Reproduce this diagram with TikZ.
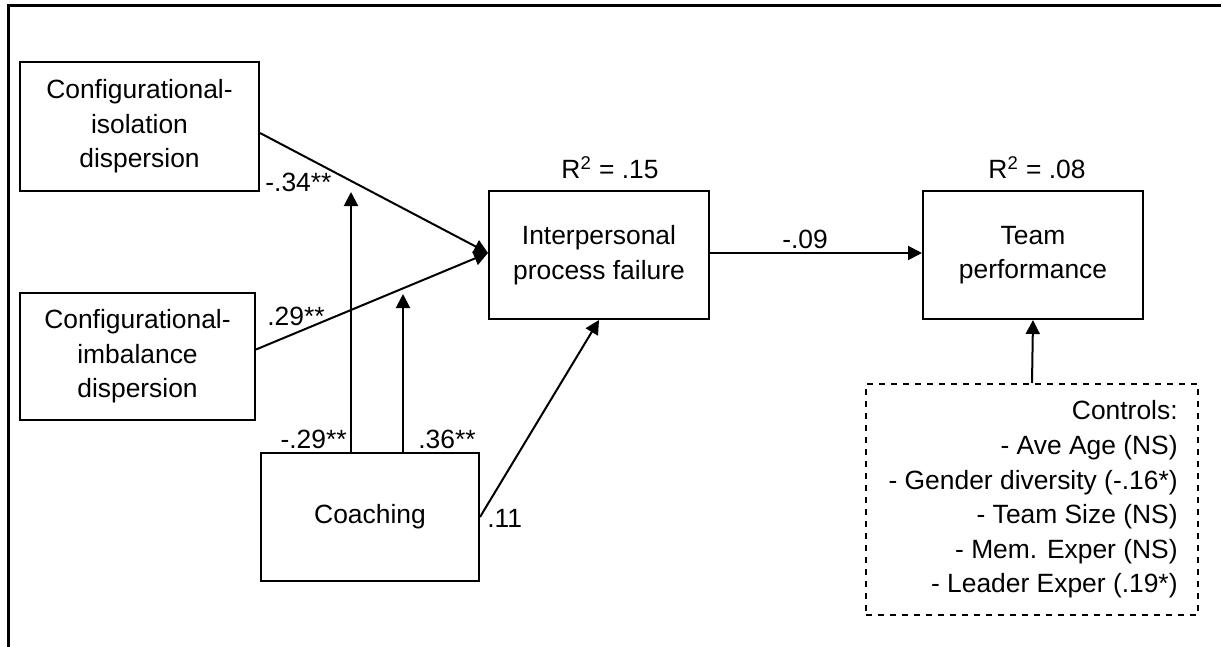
\documentclass[tikz,border=0pt]{standalone}
\usepackage{fontspec}
\setmainfont{Liberation Sans}
\usetikzlibrary{arrows.meta}
\begin{document}
\begin{tikzpicture}[x=0.5pt,y=-0.5pt,
  box/.style={draw,line width=1pt,align=center,inner sep=0pt},
  arr/.style={line width=1pt,-{Triangle[length=7pt,width=7pt]}},
  lbl/.style={inner sep=0pt},
  font=\fontsize{13.2}{17.3}\selectfont]
\useasboundingbox (0,0) rectangle (1221,647);
\draw[line width=1.5pt] (8,647) -- (8,6) -- (1221,6);
\node[box,minimum width=119.5pt,minimum height=64.5pt] (A) at (139.5,126.5) {Configurational-\\isolation\\dispersion};
\node[box,minimum width=117.5pt,minimum height=63.5pt] (B) at (137.5,356.5) {Configurational-\\imbalance\\dispersion};
\node[box,minimum width=110pt,minimum height=64pt] (I) at (599,255) {Interpersonal\\process failure};
\node[box,minimum width=110pt,minimum height=64pt] (T) at (1033,255) {Team\\performance};
\node[box,minimum width=109pt,minimum height=64pt] (C) at (370,517) {Coaching};
\node[draw,dashed,line width=1pt,inner sep=0pt,minimum width=166pt,minimum height=115.5pt] (K) at (1032,499.5) {};
\node[lbl,anchor=east,align=right] (Kt) at (1178,499.5) {Controls:\\- Ave Age (NS)\\- Gender diversity (-.16*)\\- Team Size (NS)\\- Mem. Exper (NS)\\- Leader Exper (.19*)};
\coordinate (m1) at (351,192);
\coordinate (m2) at (403,294);
\draw[arr] ([yshift=-3.25pt]A.east) -- ([yshift=1pt]I.west);
\draw[arr] ([yshift=3.5pt]B.east) -- ([yshift=1pt]I.west);
\draw[arr] ([xshift=-9.5pt]C.north) -- (m1);
\draw[arr] ([xshift=16.5pt]C.north) -- (m2);
\draw[arr] (C.east) -- (I.south);
\draw[arr] ([yshift=1pt]I.east) -- ([yshift=1pt]T.west);
\draw[arr] (K.north) -- (T.south);
\node[lbl,anchor=west] (l1) at (265,182) {-.34**};
\node[lbl,anchor=west] (l2) at (267,316) {.29**};
\node[lbl,anchor=east] (l3) at (347,439) {-.29**};
\node[lbl,anchor=west] (l4) at (418,439) {.36**};
\node[lbl,anchor=west] (l5) at (487,518) {.11};
\node[lbl] (l6) at (805,239) {-.09};
\node[lbl] (r1) at (610,168) {R\textsuperscript{2} = .15};
\node[lbl] (r2) at (1037,168) {R\textsuperscript{2} = .08};
\end{tikzpicture}
\end{document}
